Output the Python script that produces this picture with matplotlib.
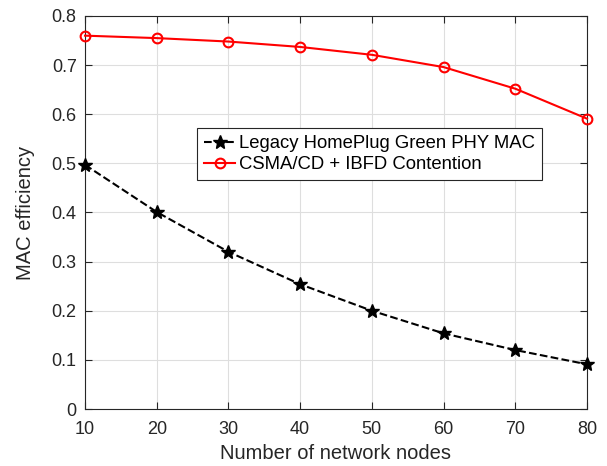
import numpy as np
import matplotlib.pyplot as plt

plt.rcParams['font.family'] = ['Liberation Sans', 'DejaVu Sans']

nodes = [10, 20, 30, 40, 50, 60, 70, 80]
legacy = [0.497, 0.401, 0.320, 0.254, 0.200, 0.154, 0.120, 0.091]
ibfd = [0.760, 0.755, 0.748, 0.737, 0.721, 0.696, 0.652, 0.591]

txt = '#262626'

fig = plt.figure(figsize=(6.07, 4.66), dpi=100)
ax = fig.add_axes([85 / 607, 1 - 409 / 466, 502 / 607, 393 / 466])

ax.plot(nodes, legacy, 'k--*', lw=1.5, ms=10, label='Legacy HomePlug Green PHY MAC', clip_on=False, zorder=3)
ax.plot(nodes, ibfd, '-o', color='red', lw=1.5, ms=7, mfc='none', mew=1.5,
        label='CSMA/CD + IBFD Contention', clip_on=False, zorder=3)

ax.set_xlim(10, 80)
ax.set_ylim(0, 0.8)
ax.set_xticks(nodes)
ax.set_yticks(np.arange(0, 0.81, 0.1))
ax.set_yticklabels(['0', '0.1', '0.2', '0.3', '0.4', '0.5', '0.6', '0.7', '0.8'])
ax.grid(True, color='#dedede', lw=0.8)
ax.set_axisbelow(True)
ax.tick_params(direction='in', top=True, right=True, labelsize=13, colors=txt, length=5)
ax.tick_params(axis='x', pad=9)
ax.tick_params(axis='y', pad=6)
for s in ax.spines.values():
    s.set_color(txt)
ax.set_xlabel('Number of network nodes', fontsize=14.5, color=txt, labelpad=4)
ax.set_ylabel('MAC efficiency', fontsize=14.5, color=txt, labelpad=12)

leg = ax.legend(loc='upper left', bbox_to_anchor=((197 - 85) / 502, (409 - 128) / 393),
                borderaxespad=0, fontsize=13.3, fancybox=False, edgecolor=txt, framealpha=1,
                handlelength=1.65, borderpad=0.4, labelspacing=0.2, handletextpad=0.2)
leg.get_frame().set_linewidth(0.8)

fig.savefig('out.png', dpi=100)
